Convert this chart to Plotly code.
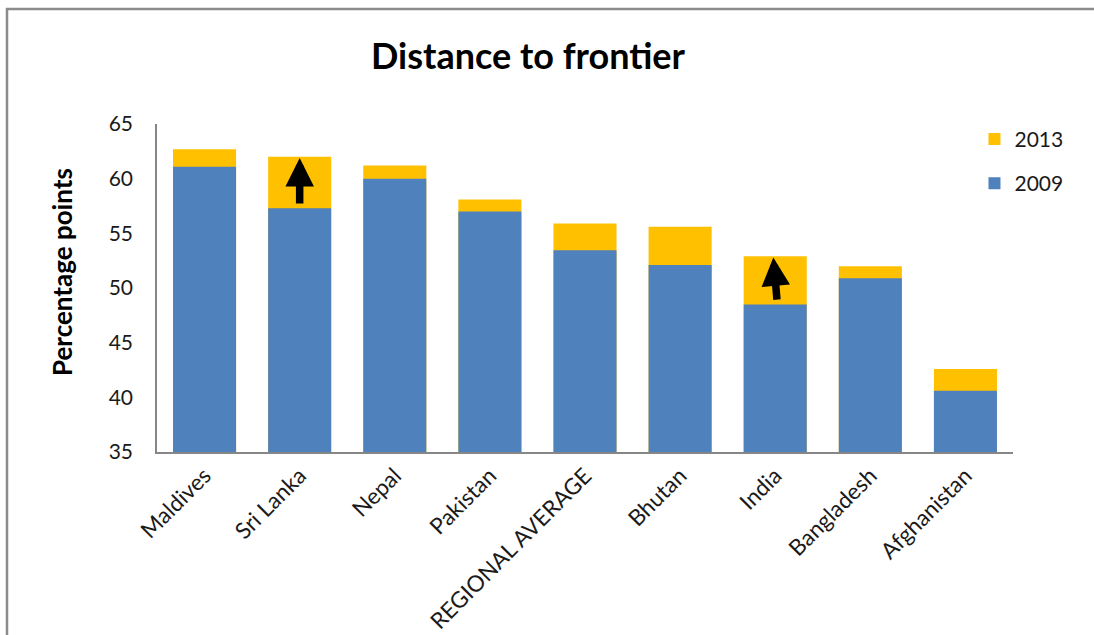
import plotly.graph_objects as go

categories = ["Maldives", "Sri Lanka", "Nepal", "Pakistan", "REGIONAL AVERAGE",
              "Bhutan", "India", "Bangladesh", "Afghanistan"]
values_2009 = [61.1, 57.3, 60.0, 57.0, 53.45, 52.1, 48.5, 50.9, 40.6]
values_2013 = [62.7, 62.0, 61.2, 58.1, 55.9, 55.6, 52.9, 52.0, 42.6]
y_ticks = [35, 40, 45, 50, 55, 60, 65]

FONT = "Lato"
TXT = "#1a1a1a"

fig = go.Figure()
fig.add_trace(go.Bar(x=categories, y=values_2013, name="2013",
                     marker=dict(color="#FFC000", line=dict(width=0)),
                     legendgroup="a"))
fig.add_trace(go.Bar(x=categories, y=values_2009, name="2009",
                     marker=dict(color="#4F81BD", line=dict(width=0)),
                     legendgroup="b"))

# arrows (Sri Lanka, India) from 2009 value to 2013 value
for idx, dx_tip, dx_base in [(1, 0.0, 0.0), (6, -0.02, 0.02)]:
    fig.add_annotation(x=idx + dx_tip, y=values_2013[idx] - 0.1,
                       ax=idx + dx_base, ay=values_2009[idx] + 0.3,
                       xref="x", yref="y", axref="x", ayref="y",
                       text="", showarrow=True, arrowhead=2,
                       arrowsize=0.76, arrowwidth=7.5, arrowcolor="black",
                       standoff=0, startstandoff=0)

fig.add_annotation(text="<b>Percentage points</b>", xref="paper", yref="paper",
                   x=(62 - 157) / 856, y=(452 - 272) / 328, textangle=-90,
                   xanchor="center", yanchor="middle", showarrow=False,
                   font=dict(family=FONT, size=26, color="black"))

# frame lines
fig.add_shape(type="line", xref="paper", yref="paper",
              x0=(6 - 157) / 856, x1=(1100 - 157) / 856,
              y0=(452 - 9) / 328, y1=(452 - 9) / 328,
              line=dict(color="#8c8c8c", width=2.5))
fig.add_shape(type="line", xref="paper", yref="paper",
              x0=(7 - 157) / 856, x1=(7 - 157) / 856,
              y0=(452 - 8) / 328, y1=(452 - 640) / 328,
              line=dict(color="#8c8c8c", width=2.5))

fig.update_layout(
    width=1094, height=635,
    margin=dict(l=157, r=81, t=124, b=183),
    paper_bgcolor="white", plot_bgcolor="white",
    barmode="overlay", bargap=0.337,
    font=dict(family=FONT, color=TXT),
    title=dict(text="<b>Distance to frontier</b>", x=528 / 1094, xref="container",
               xanchor="center", y=1 - 56 / 635, yref="container", yanchor="middle",
               font=dict(family=FONT, size=36, color="black")),
    legend=dict(x=0.955, y=1.016, xanchor="left", yanchor="top",
                font=dict(family=FONT, size=21, color=TXT),
                tracegroupgap=14, traceorder="grouped",
                bgcolor="rgba(0,0,0,0)"),
    showlegend=True,
)
fig.update_xaxes(showline=True, linecolor="#868686", linewidth=1.5,
                 tickangle=-45, tickfont=dict(family=FONT, size=22.5, color=TXT),
                 showgrid=False, ticks="", automargin=False)
fig.update_yaxes(range=[35, 65], tickvals=y_ticks, showline=True,
                 linecolor="#868686", linewidth=1.5, showgrid=False,
                 tickfont=dict(family=FONT, size=21, color=TXT), ticks="",
                 ticklabelstandoff=18, zeroline=False, automargin=False)

fig.write_html("out.html")
